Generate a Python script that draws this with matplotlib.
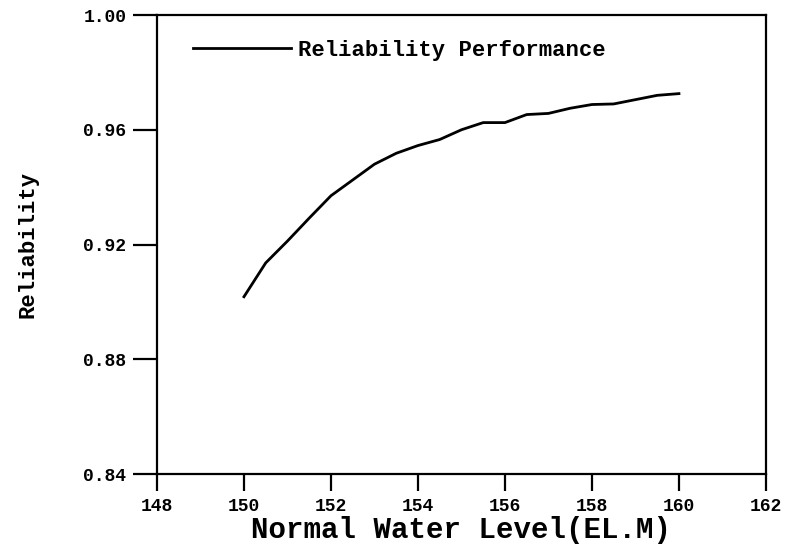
import matplotlib
matplotlib.use("Agg")
import matplotlib.pyplot as plt

# normal water level (EL.M) vs reliability
water_level = [150.0, 150.5, 151.0, 151.5, 152.0, 152.5, 153.0, 153.5, 154.0, 154.5,
               155.0, 155.5, 156.0, 156.5, 157.0, 157.5, 158.0, 158.5, 159.0, 159.5, 160.0]
reliability = [0.9018, 0.9136, 0.9212, 0.9292, 0.9370, 0.9425, 0.9480, 0.9518, 0.9545, 0.9566,
               0.9600, 0.9625, 0.9625, 0.9653, 0.9657, 0.9675, 0.9688, 0.9690, 0.9705, 0.9720, 0.9726]

x_ticks = [148, 150, 152, 154, 156, 158, 160, 162]
y_ticks = [0.84, 0.88, 0.92, 0.96, 1.00]

plt.rcParams['font.family'] = ['Liberation Mono', 'DejaVu Sans Mono']
plt.rcParams['font.weight'] = 'bold'

fig = plt.figure(figsize=(7.88, 5.48), dpi=100)
ax = fig.add_axes([0.1992, 0.135, 0.7728, 0.8376])

ax.plot(water_level, reliability, color='black', linewidth=2.0, label='Reliability Performance')

ax.set_xlim(148, 162)
ax.set_ylim(0.84, 1.00)
ax.set_xticks(x_ticks)
ax.set_yticks(y_ticks)
ax.set_xticklabels([str(t) for t in x_ticks], fontsize=13, fontweight='bold')
ax.set_yticklabels(['%.2f' % t for t in y_ticks], fontsize=13, fontweight='bold')

for s in ax.spines.values():
    s.set_linewidth(1.6)
ax.tick_params(axis='x', direction='out', length=12, width=1.6, pad=5)
ax.tick_params(axis='y', direction='out', length=17, width=1.6, pad=5)

ax.set_xlabel('Normal Water Level(EL.M)', fontsize=21, fontweight='bold', labelpad=1)
ax.set_ylabel('Reliability', fontsize=16, fontweight='bold', labelpad=32)

ax.legend(loc='upper left', bbox_to_anchor=(0.027, 0.99), frameon=False,
          handlelength=4.4, handletextpad=0.3, prop={'weight': 'bold', 'size': 16})

fig.savefig('out.png', dpi=100)
